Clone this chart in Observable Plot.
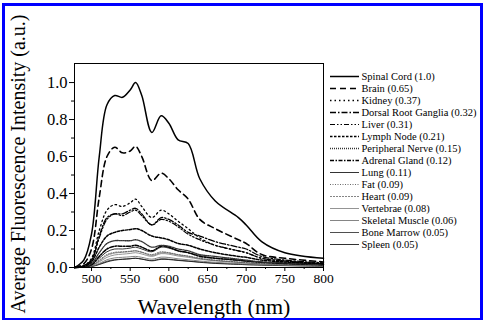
<!DOCTYPE html>
<html>
<head>
<meta charset="utf-8">
<script src="https://cdn.jsdelivr.net/npm/d3@7"></script>
<script src="https://cdn.jsdelivr.net/npm/@observablehq/plot@0.6"></script>
<style>
  html, body { margin: 0; padding: 0; background: #fff; }
  #wrap { position: relative; width: 483px; height: 320px; overflow: hidden; background: #fff; }
  #wrap svg { position: absolute; top: 0; }
  #wrap svg, #wrap svg text { font-family: "Liberation Serif", "Times New Roman", Times, "DejaVu Serif", serif !important; }
  #border { position: absolute; left: 2px; top: 3px; width: 481px; height: 317px; box-sizing: border-box; border: 3px solid #0000ff; border-bottom-width: 2px; pointer-events: none; }
</style>
</head>
<body>
<div id="wrap"><div id="border"></div></div>
<script>
// ---- data ----
const wavelengths = [478, 490, 500, 510, 520, 530, 540, 550, 557, 565, 578, 590, 600, 612, 625, 640, 660, 690, 700, 720, 750, 800];
const seriesNames = ["Spinal Cord", "Brain", "Kidney", "Dorsal Root Ganglia", "Liver", "Lymph Node", "Peripheral Nerve", "Adrenal Gland", "Lung", "Fat", "Heart", "Vertebrae", "Skeletal Muscle", "Bone Marrow", "Spleen"];
const seriesPeaks = ["1.0", "0.65", "0.37", "0.32", "0.31", "0.21", "0.15", "0.12", "0.11", "0.09", "0.09", "0.08", "0.06", "0.05", "0.05"];
const spinalCord = [0, 0.04, 0.18, 0.6, 0.88, 0.93, 0.92, 0.96, 1.0, 0.93, 0.73, 0.82, 0.78, 0.69, 0.67, 0.48, 0.36, 0.27, 0.23, 0.14, 0.08, 0.05];
const brain = [0, 0.02, 0.1, 0.38, 0.6, 0.65, 0.62, 0.63, 0.655, 0.6, 0.47, 0.51, 0.48, 0.42, 0.37, 0.26, 0.21, 0.15, 0.13, 0.07, 0.05, 0.03];
const kidney = [0, 0.01, 0.05, 0.2, 0.31, 0.34, 0.33, 0.35, 0.37, 0.33, 0.27, 0.31, 0.29, 0.25, 0.21, 0.16, 0.12, 0.09, 0.08, 0.05, 0.035, 0.02];
const drg = [0, 0.01, 0.04, 0.17, 0.27, 0.29, 0.29, 0.31, 0.32, 0.29, 0.23, 0.27, 0.26, 0.23, 0.19, 0.17, 0.14, 0.11, 0.1, 0.06, 0.04, 0.025];
const liver = [0, 0.01, 0.04, 0.16, 0.26, 0.29, 0.28, 0.3, 0.31, 0.28, 0.23, 0.26, 0.25, 0.22, 0.18, 0.15, 0.12, 0.09, 0.08, 0.05, 0.035, 0.02];
const lymphNode = [0, 0.005, 0.03, 0.11, 0.17, 0.19, 0.2, 0.205, 0.21, 0.2, 0.17, 0.16, 0.15, 0.13, 0.12, 0.1, 0.08, 0.06, 0.055, 0.04, 0.03, 0.02];
const peripheralNerve = [0, 0.004, 0.02, 0.08, 0.13, 0.145, 0.145, 0.145, 0.15, 0.14, 0.11, 0.12, 0.115, 0.1, 0.09, 0.07, 0.06, 0.045, 0.04, 0.03, 0.025, 0.015];
const adrenalGland = [0, 0.003, 0.015, 0.06, 0.1, 0.115, 0.115, 0.115, 0.12, 0.11, 0.09, 0.115, 0.11, 0.09, 0.08, 0.06, 0.05, 0.04, 0.035, 0.028, 0.022, 0.015];
const lung = [0, 0.003, 0.015, 0.05, 0.085, 0.1, 0.1, 0.105, 0.11, 0.1, 0.085, 0.11, 0.105, 0.09, 0.08, 0.065, 0.05, 0.038, 0.034, 0.028, 0.022, 0.015];
const fat = [0, 0.002, 0.012, 0.04, 0.07, 0.082, 0.085, 0.088, 0.09, 0.083, 0.07, 0.085, 0.08, 0.07, 0.062, 0.05, 0.04, 0.03, 0.027, 0.022, 0.018, 0.012];
const heart = [0, 0.002, 0.01, 0.035, 0.065, 0.078, 0.082, 0.086, 0.09, 0.082, 0.065, 0.08, 0.078, 0.068, 0.06, 0.048, 0.038, 0.028, 0.025, 0.02, 0.016, 0.012];
const vertebrae = [0, 0.002, 0.01, 0.03, 0.055, 0.068, 0.072, 0.076, 0.08, 0.073, 0.06, 0.075, 0.072, 0.062, 0.055, 0.045, 0.036, 0.027, 0.024, 0.019, 0.015, 0.01];
const skeletalMuscle = [0, 0.001, 0.007, 0.022, 0.042, 0.052, 0.055, 0.058, 0.06, 0.055, 0.045, 0.056, 0.054, 0.047, 0.042, 0.035, 0.028, 0.021, 0.019, 0.016, 0.013, 0.009];
const boneMarrow = [0, 0.001, 0.006, 0.018, 0.034, 0.042, 0.045, 0.048, 0.05, 0.046, 0.038, 0.047, 0.045, 0.04, 0.035, 0.03, 0.024, 0.018, 0.016, 0.014, 0.011, 0.008];
const spleen = [0, 0.001, 0.005, 0.016, 0.03, 0.04, 0.044, 0.047, 0.05, 0.045, 0.036, 0.044, 0.043, 0.038, 0.034, 0.028, 0.022, 0.017, 0.015, 0.013, 0.01, 0.007];
const xTicks = [500, 550, 600, 650, 700, 750, 800];
const xMinorTicks = [525, 575, 625, 675, 725, 775];
const yTicks = [0, 0.2, 0.4, 0.6, 0.8, 1.0];
const yMinorTicks = [0.1, 0.3, 0.5, 0.7, 0.9];
const xTitle = "Wavelength (nm)";
const yTitle = "Average Fluorescence Intensity (a.u.)";

// ---- styles (not data) ----
const styles = {
  "Spinal Cord":        {stroke: "#000", width: 1.5, dash: null},
  "Brain":              {stroke: "#000", width: 1.6, dash: "6,4"},
  "Kidney":             {stroke: "#000", width: 1.3, dash: "1.5,3"},
  "Dorsal Root Ganglia":{stroke: "#000", width: 1.3, dash: "6,2,1.5,2"},
  "Liver":              {stroke: "#000", width: 1.2, dash: "5,2,1.5,2,1.5,2"},
  "Lymph Node":         {stroke: "#000", width: 1.5, dash: "2.5,1.5"},
  "Peripheral Nerve":   {stroke: "#333", width: 1.3, dash: "1,1"},
  "Adrenal Gland":      {stroke: "#000", width: 1.5, dash: "4,1.5,1.5,1.5"},
  "Lung":               {stroke: "#000", width: 0.8, dash: null},
  "Fat":                {stroke: "#444", width: 0.8, dash: "1,1.5"},
  "Heart":              {stroke: "#666", width: 0.8, dash: "2,1"},
  "Vertebrae":          {stroke: "#888", width: 0.9, dash: null},
  "Skeletal Muscle":    {stroke: "#777", width: 0.9, dash: null},
  "Bone Marrow":        {stroke: "#222", width: 0.8, dash: null},
  "Spleen":             {stroke: "#000", width: 0.8, dash: null}
};

const seriesValues = [spinalCord, brain, kidney, drg, liver, lymphNode, peripheralNerve, adrenalGland, lung, fat, heart, vertebrae, skeletalMuscle, boneMarrow, spleen];
const rows = [];
seriesNames.forEach((name, i) => {
  wavelengths.forEach((w, j) => rows.push({series: name, wavelength: w, value: seriesValues[i][j]}));
});

const lineMarks = seriesNames.slice().reverse().map(name => {
  const s = styles[name];
  return Plot.line(rows.filter(d => d.series === name), {
    x: "wavelength", y: "value", curve: "catmull-rom",
    stroke: s.stroke, strokeWidth: s.width, strokeDasharray: s.dash
  });
});

const chart = Plot.plot({
  width: 483, height: 320,
  marginLeft: 74, marginRight: 160, marginTop: 63, marginBottom: 53,
  style: {background: "transparent", color: "#000"},
  x: {domain: [478, 800]},
  y: {domain: [0, 1.103]},
  marks: [
    ...lineMarks,
    Plot.frame({stroke: "#000", strokeWidth: 1}),
    Plot.axisX(xTicks, {tickSize: 4, tickPadding: 2, fontSize: 13.5, label: null, tickFormat: d => String(d)}),
    Plot.axisX(xMinorTicks, {tickSize: 2, tickFormat: () => "", label: null}),
    Plot.axisY(yTicks, {tickSize: 5, tickPadding: 2, fontSize: 16.5, label: null, tickFormat: d3.format(".1f")}),
    Plot.axisY(yMinorTicks, {tickSize: 3, tickFormat: () => "", label: null})
  ]
});

const svg = d3.select(chart);
svg.append("text")
  .attr("transform", "translate(25,164) rotate(-90)")
  .attr("text-anchor", "middle")
  .attr("font-size", 20).attr("fill", "#000")
  .text(yTitle);
svg.append("text")
  .attr("x", 214).attr("y", 314)
  .attr("text-anchor", "middle")
  .attr("font-size", 22).attr("fill", "#000")
  .text(xTitle);

// legend as a second Plot using its own scales
const legendData = seriesNames.map((name, i) => ({name, label: `${name} (${seriesPeaks[i]})`}));
const legend = Plot.plot({
  width: 153, height: 320,
  marginLeft: 0, marginRight: 0, marginTop: 64, marginBottom: 64,
  style: {background: "transparent", color: "#000", overflow: "hidden"},
  x: {domain: [0, 1], range: [0, 29], axis: null},
  y: {type: "point", domain: seriesNames, range: [64, 256], axis: null},
  marks: [
    ...legendData.map(d => Plot.ruleY([d], {
      y: "name", x1: 0, x2: 1,
      stroke: styles[d.name].stroke, strokeWidth: styles[d.name].width, strokeDasharray: styles[d.name].dash
    })),
    Plot.text(legendData, {x: 1, y: "name", text: "label", dx: 2, textAnchor: "start", fontSize: 10.5, fill: "#000"})
  ]
});

const wrap = document.getElementById("wrap");
chart.style.left = "0px";
legend.style.left = "330px";
wrap.insertBefore(chart, wrap.firstChild);
wrap.insertBefore(legend, document.getElementById("border"));
</script>
</body>
</html>
